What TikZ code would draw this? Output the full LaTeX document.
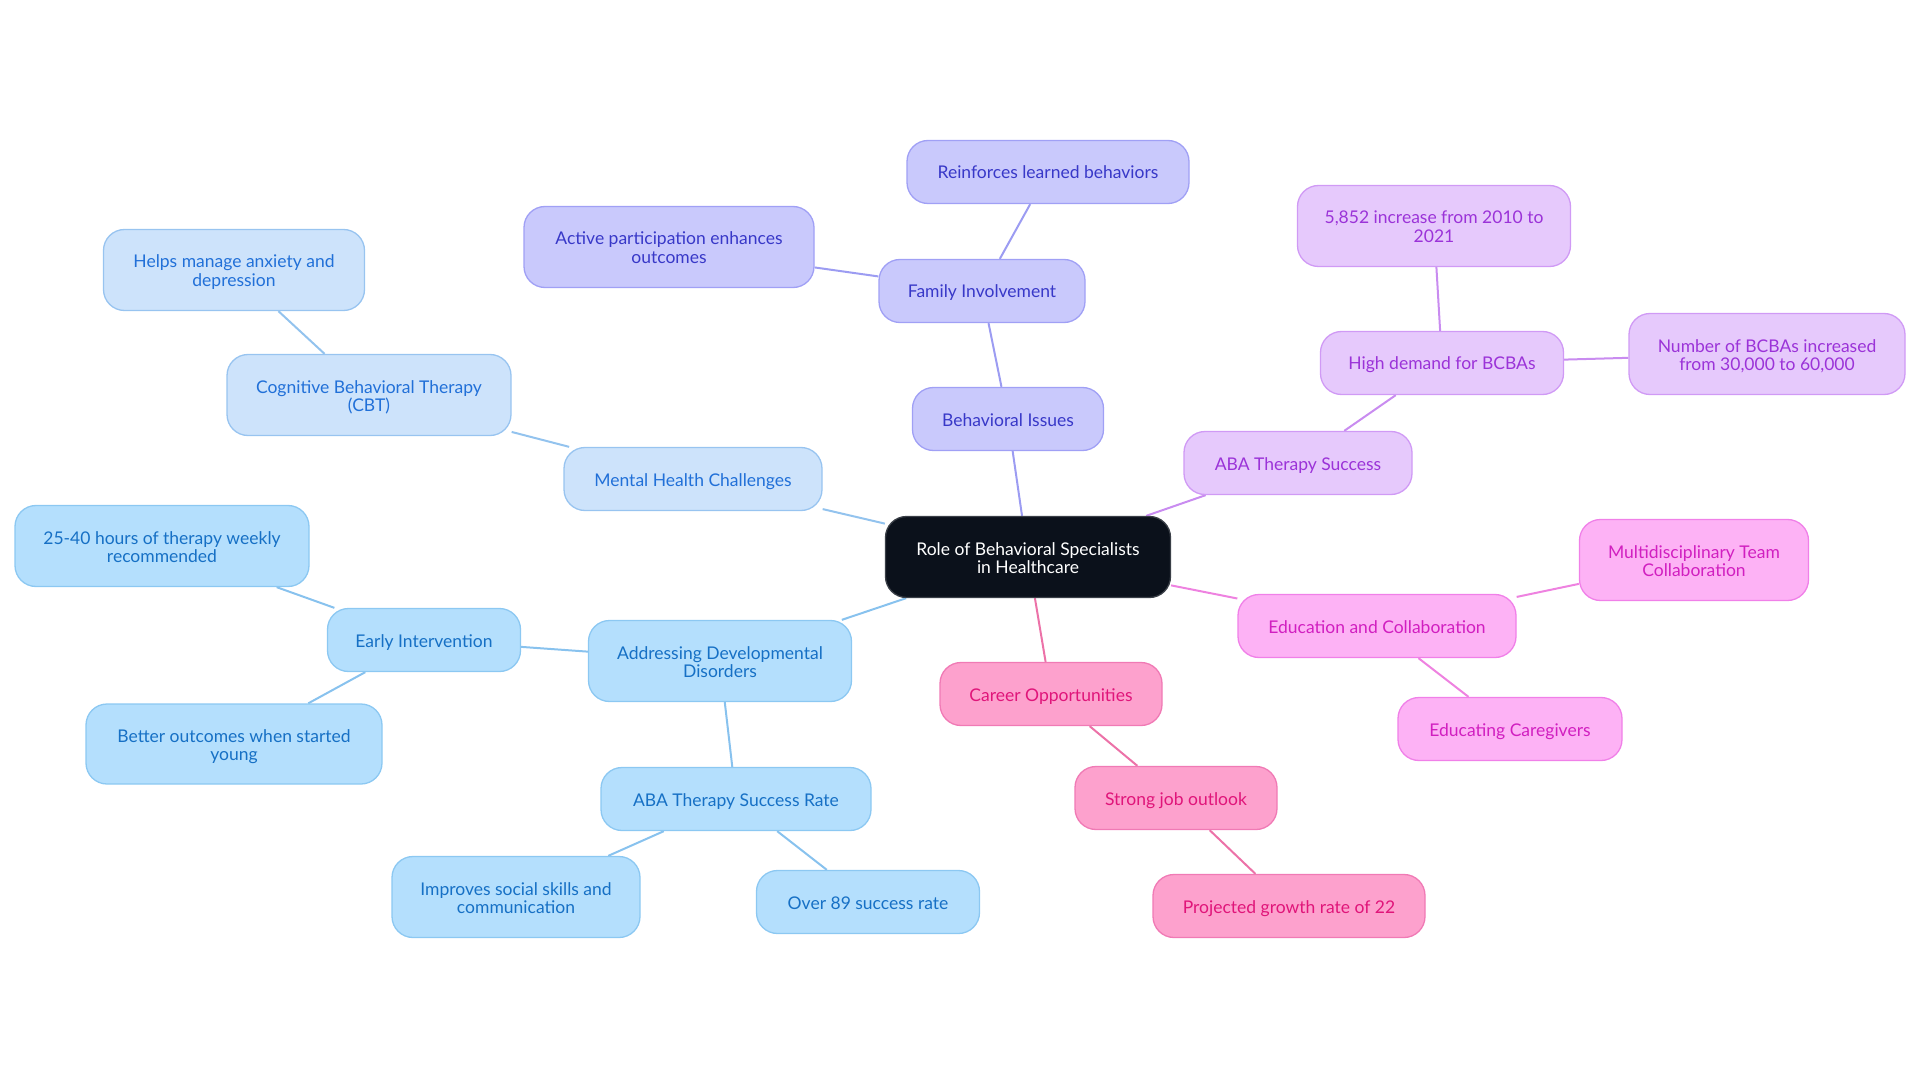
\documentclass[tikz,border=0pt]{standalone}
\usepackage{fontspec}
\setmainfont{Lato}
\usetikzlibrary{backgrounds}
\definecolor{rootfill}{HTML}{0B111B}
\definecolor{rootdraw}{HTML}{3A3F47}
\definecolor{mhfill}{HTML}{CDE3FB}
\definecolor{mhdraw}{HTML}{98C4F0}
\definecolor{mhtext}{HTML}{2170D8}
\definecolor{mhedge}{HTML}{93C3EE}
\definecolor{bifill}{HTML}{C9C9FC}
\definecolor{bidraw}{HTML}{A0A0F5}
\definecolor{bitext}{HTML}{3838C8}
\definecolor{biedge}{HTML}{9C9CF2}
\definecolor{abfill}{HTML}{E6C9FC}
\definecolor{abdraw}{HTML}{D09AF5}
\definecolor{abtext}{HTML}{9B33D8}
\definecolor{abedge}{HTML}{C98CF0}
\definecolor{edfill}{HTML}{FDB2F5}
\definecolor{eddraw}{HTML}{F080E8}
\definecolor{edtext}{HTML}{D11FC0}
\definecolor{ededge}{HTML}{EE82E0}
\definecolor{cofill}{HTML}{FDA1CD}
\definecolor{codraw}{HTML}{F07AB5}
\definecolor{cotext}{HTML}{E0157A}
\definecolor{coedge}{HTML}{EC72A8}
\definecolor{adfill}{HTML}{B4DFFD}
\definecolor{addraw}{HTML}{8CC8F2}
\definecolor{adtext}{HTML}{1670C5}
\definecolor{adedge}{HTML}{88C2EE}
\tikzset{
  box/.style={rectangle, rounded corners=21pt, line width=1.3pt, align=center, inner sep=2pt,
    font=\fontsize{17.5}{18.5}\selectfont},
  one/.style={text height=18pt, text depth=4pt},
  two/.style={text height=37pt, text depth=4pt},
  rootbox/.style={box, fill=rootfill, draw=rootdraw, text=white},
  mhbox/.style={box, fill=mhfill, draw=mhdraw, text=mhtext},
  bibox/.style={box, fill=bifill, draw=bidraw, text=bitext},
  abbox/.style={box, fill=abfill, draw=abdraw, text=abtext},
  edbox/.style={box, fill=edfill, draw=eddraw, text=edtext},
  cobox/.style={box, fill=cofill, draw=codraw, text=cotext},
  adbox/.style={box, fill=adfill, draw=addraw, text=adtext},
  sz/.style n args={2}{minimum width=#1pt, minimum height=#2pt},
  link/.style={line width=2pt},
}
\begin{document}
\begin{tikzpicture}[x=1pt,y=-1pt]
\useasboundingbox (0,0) rectangle (1920,1083);
% root
\node[rootbox, two, sz={285}{81}] (root) at (1028,557) {Role of Behavioral Specialists\\in Healthcare};
% behavioral issues branch
\node[bibox, one, sz={191}{63}] (bi) at (1008,419) {Behavioral Issues};
\node[bibox, one, sz={206}{63}] (fi) at (982,291) {Family Involvement};
\node[bibox, one, sz={282}{63}] (rl) at (1048,172) {Reinforces learned behaviors};
\node[bibox, two, sz={290}{81}] (ap) at (669,247) {Active participation enhances\\outcomes};
% ABA therapy success branch
\node[abbox, one, sz={228}{63}] (aba) at (1298,463) {ABA Therapy Success};
\node[abbox, one, sz={243}{63}] (hd) at (1442,363) {High demand for BCBAs};
\node[abbox, two, sz={273}{81}] (inc) at (1434,226) {5,852 increase from 2010 to\\2021};
\node[abbox, two, sz={276}{81}] (num) at (1767,354) {Number of BCBAs increased\\from 30,000 to 60,000};
% education branch
\node[edbox, one, sz={278}{63}] (ec) at (1377,626) {Education and Collaboration};
\node[edbox, two, sz={229}{81}] (mtc) at (1694,560) {Multidisciplinary Team\\Collaboration};
\node[edbox, one, sz={224}{63}] (ecg) at (1510,729) {Educating Caregivers};
% career branch
\node[cobox, one, sz={222}{63}] (co) at (1051,694) {Career Opportunities};
\node[cobox, one, sz={202}{63}] (sjo) at (1176,798) {Strong job outlook};
\node[cobox, one, sz={272}{63}] (pgr) at (1289,906) {Projected growth rate of 22};
% mental health branch
\node[mhbox, one, sz={258}{63}] (mhc) at (693,479) {Mental Health Challenges};
\node[mhbox, two, sz={284}{81}] (cbt) at (369,395) {Cognitive Behavioral Therapy\\(CBT)};
\node[mhbox, two, sz={261}{81}] (hma) at (234,270) {Helps manage anxiety and\\depression};
% developmental branch
\node[adbox, two, sz={263}{81}] (add) at (720,661) {Addressing Developmental\\Disorders};
\node[adbox, one, sz={193}{63}] (ei) at (424,640) {Early Intervention};
\node[adbox, two, sz={294}{81}] (h25) at (162,546) {25-40 hours of therapy weekly\\recommended};
\node[adbox, two, sz={296}{80}] (bo) at (234,744) {Better outcomes when started\\young};
\node[adbox, one, sz={270}{63}] (abar) at (736,799) {ABA Therapy Success Rate};
\node[adbox, two, sz={248}{81}] (iss) at (516,897) {Improves social skills and\\communication};
\node[adbox, one, sz={223}{63}] (o89) at (868,902) {Over 89 success rate};
\begin{pgfonlayer}{background}
\draw[link, biedge] (root) -- (bi);
\draw[link, biedge] (bi) -- (fi);
\draw[link, biedge] (fi) -- (rl);
\draw[link, biedge] (fi) -- (ap);
\draw[link, abedge] (root) -- (aba);
\draw[link, abedge] (aba) -- (hd);
\draw[link, abedge] (hd) -- (inc);
\draw[link, abedge] (hd) -- (num);
\draw[link, ededge] (root) -- (ec);
\draw[link, ededge] (ec) -- (mtc);
\draw[link, ededge] (ec) -- (ecg);
\draw[link, coedge] (root) -- (co);
\draw[link, coedge] (co) -- (sjo);
\draw[link, coedge] (sjo) -- (pgr);
\draw[link, mhedge] (root) -- (mhc);
\draw[link, mhedge] (mhc) -- (cbt);
\draw[link, mhedge] (cbt) -- (hma);
\draw[link, adedge] (root) -- (add);
\draw[link, adedge] (add) -- (ei);
\draw[link, adedge] (ei) -- (h25);
\draw[link, adedge] (ei) -- (bo);
\draw[link, adedge] (add) -- (abar);
\draw[link, adedge] (abar) -- (iss);
\draw[link, adedge] (abar) -- (o89);
\end{pgfonlayer}
\end{tikzpicture}
\end{document}
